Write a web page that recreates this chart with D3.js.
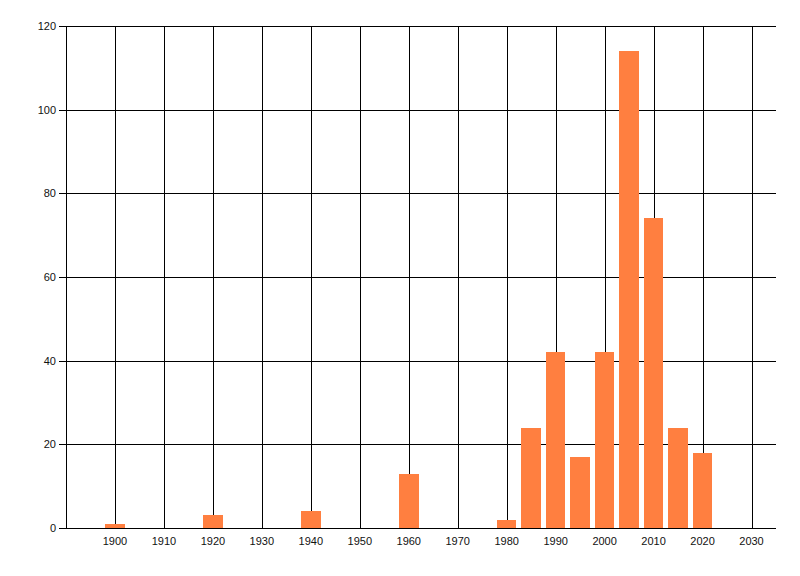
<!DOCTYPE html>
<html><head><meta charset="utf-8">
<script src="https://cdn.jsdelivr.net/npm/d3@7"></script>
<style>body{margin:0;background:#fff}svg{display:block}</style>
</head><body>
<svg id="c" width="800" height="576"></svg>
<script>
const years = [1900, 1920, 1940, 1960, 1980, 1985, 1990, 1995, 2000, 2005, 2010, 2015, 2020];
const counts = [1, 3, 4, 13, 2, 24, 42, 17, 42, 114, 74, 24, 18];
const xTicks = [1900,1910,1920,1930,1940,1950,1960,1970,1980,1990,2000,2010,2020,2030];
const yTicks = [0,20,40,60,80,100,120];

const svg = d3.select("#c");
const x = d3.scaleLinear().domain([1890, 2035]).range([66, 776]);
const y = d3.scaleLinear().domain([0, 120]).range([528, 26]);
const font = "'Liberation Sans', Arial, sans-serif";

const g = svg.append("g").attr("shape-rendering", "crispEdges");

// vertical grid
g.selectAll(".vg").data(xTicks).join("line")
  .attr("x1", d => Math.round(x(d)) + 0.5).attr("x2", d => Math.round(x(d)) + 0.5)
  .attr("y1", y(120)).attr("y2", y(0)).attr("stroke", "#000");
// horizontal grid + ticks
g.selectAll(".hg").data(yTicks).join("line")
  .attr("x1", 59).attr("x2", 776)
  .attr("y1", d => Math.round(y(d)) + 0.5).attr("y2", d => Math.round(y(d)) + 0.5)
  .attr("stroke", "#000");
// left axis
g.append("line").attr("x1", 66.5).attr("x2", 66.5).attr("y1", y(120)).attr("y2", y(0) + 1).attr("stroke", "#000");

// bars
g.selectAll(".bar").data(years.map((yr, i) => ({yr, v: counts[i]}))).join("rect")
  .attr("x", d => x(d.yr - 2)).attr("width", d => x(d.yr + 2) - x(d.yr - 2))
  .attr("y", d => y(d.v)).attr("height", d => y(0) - y(d.v))
  .attr("fill", "#FF7F40");

// y labels
svg.selectAll(".yl").data(yTicks).join("text")
  .attr("x", 56).attr("y", d => y(d) + 4)
  .attr("text-anchor", "end").attr("font-family", font).attr("font-size", 11).attr("fill", "#111")
  .text(d => d);
// x labels
svg.selectAll(".xl").data(xTicks).join("text")
  .attr("x", d => x(d)).attr("y", 545)
  .attr("text-anchor", "middle").attr("font-family", font).attr("font-size", 11).attr("fill", "#111")
  .text(d => d);
</script>
</body></html>
